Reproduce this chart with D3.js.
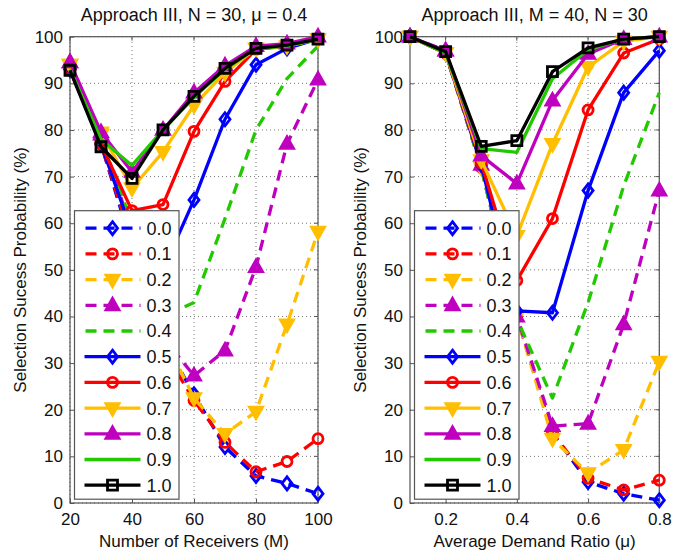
<!DOCTYPE html>
<html>
<head>
<meta charset="utf-8">
<script src="https://d3js.org/d3.v7.min.js"></script>
<style>
  body { margin: 0; background: #fff; font-family: 'Liberation Sans', Arial, sans-serif; }
</style>
</head>
<body>
<div id="chart"></div>
<script>
// series labels (legend) and the x values of both panels
var seriesLabels = ["0.0", "0.1", "0.2", "0.3", "0.4", "0.5", "0.6", "0.7", "0.8", "0.9", "1.0"];
var receivers = [20, 30, 40, 50, 60, 70, 80, 90, 100];
var demandRatio = [0.1, 0.2, 0.3, 0.4, 0.5, 0.6, 0.7, 0.8];

// left panel: N = 30, mu = 0.4, one row per series
var leftValues = [
  [93, 77, 55, 35, 23.3, 12, 5.8, 4.2, 2],
  [93, 77, 56, 33, 22, 13, 6.7, 8.9, 13.8],
  [94, 79, 58, 36, 22.5, 14.8, 19.6, 38.3, 58.2],
  [94.5, 79, 58, 35.5, 27.3, 32.7, 50.6, 77, 90.8],
  [93, 78, 60, 40, 43, 61, 80, 91, 98],
  [93, 77, 58, 50, 65, 82.3, 94, 97.5, 99.5],
  [93, 77, 62.7, 64, 79.7, 90.4, 97.3, 98, 99.5],
  [94, 79.5, 67.5, 75.3, 85.3, 92.3, 97.5, 98, 99.5],
  [94.5, 79.5, 71, 80, 88, 93.8, 98, 98.5, 100],
  [93, 78, 72.4, 80, 87, 93, 97.5, 98, 99.5],
  [92.8, 76.4, 69.6, 80, 87.2, 93.2, 97.5, 98.2, 99.5]
];

// right panel: M = 40, N = 30
var rightValues = [
  [100, 96.5, 72, 40, 15, 4.5, 2, 0.6],
  [100, 96.5, 72, 40, 15, 5.3, 2.8, 4.9],
  [100, 96.5, 72, 40, 13.8, 6.4, 11.4, 30.3],
  [100, 97, 72.5, 40, 16.5, 17, 38.3, 67],
  [100, 96.5, 72, 39.5, 22.5, 43, 68, 88],
  [100, 96.5, 72.5, 41.2, 40.8, 67, 88, 97],
  [100, 96.5, 73, 47.7, 61, 84.3, 96.5, 99.5],
  [100, 96.5, 73.5, 57.3, 77, 93.5, 99, 100],
  [100, 97, 74.5, 68.5, 86.3, 96.3, 99.5, 100],
  [100, 96.5, 76, 75.2, 91, 97.2, 99.5, 100],
  [100, 96.8, 76.5, 77.7, 92.5, 97.6, 99.5, 100]
];

var yTicks = [0, 10, 20, 30, 40, 50, 60, 70, 80, 90, 100];
var leftXTicks = [20, 40, 60, 80, 100];
var rightXTicks = [0.2, 0.4, 0.6, 0.8];

// styles
var colors = ["#0000ff", "#ff0000", "#ffbf00", "#bf00bf", "#22c800",
              "#0000ff", "#ff0000", "#ffbf00", "#bf00bf", "#22c800", "#000000"];
var dashed = [true, true, true, true, true, false, false, false, false, false, false];
var markers = ["diamond", "circle", "tridown", "triup", null,
               "diamond", "circle", "tridown", "triup", null, "square"];

var W = 684, H = 555;
var svg = d3.select("#chart").append("svg")
  .attr("width", W).attr("height", H);

function markerPath(kind) {
  if (kind == "diamond") return "M0,-6.5L5,0L0,6.5L-5,0Z";
  if (kind == "circle") return "M5,0A5,5 0 1,1 -5,0A5,5 0 1,1 5,0Z";
  if (kind == "tridown") return "M-6.5,-4.5L6.5,-4.5L0,7Z";
  if (kind == "triup") return "M-6.5,4.5L6.5,4.5L0,-7Z";
  if (kind == "square") return "M-5,-5L5,-5L5,5L-5,5Z";
  return null;
}

function drawMarker(g, kind, color, x, y) {
  if (!kind) return;
  var filled = (kind == "tridown" || kind == "triup");
  g.append("path")
    .attr("d", markerPath(kind))
    .attr("transform", "translate(" + x + "," + y + ")")
    .attr("fill", filled ? color : "none")
    .attr("stroke", color)
    .attr("stroke-width", 2.8)
    .attr("stroke-linejoin", "miter");
}

function drawPanel(opt) {
  var x = d3.scaleLinear().domain(opt.xDomain).range([opt.left, opt.right]);
  var y = d3.scaleLinear().domain([0, 100]).range([503, 36.7]);
  var g = svg.append("g");

  // grid
  g.selectAll(".gx").data(opt.xTicks).enter().append("line")
    .attr("x1", function (d) { return x(d); }).attr("x2", function (d) { return x(d); })
    .attr("y1", y(0)).attr("y2", y(100))
    .attr("stroke", "#777").attr("stroke-width", 1).attr("stroke-dasharray", "1,3");
  g.selectAll(".gy").data(yTicks).enter().append("line")
    .attr("x1", opt.left).attr("x2", opt.right)
    .attr("y1", function (d) { return y(d); }).attr("y2", function (d) { return y(d); })
    .attr("stroke", "#777").attr("stroke-width", 1).attr("stroke-dasharray", "1,3");

  // axes
  var xAxis = g.append("g").attr("transform", "translate(0," + y(0) + ")")
    .call(d3.axisBottom(x).tickValues(opt.xTicks).tickSizeInner(-4).tickSizeOuter(0)
      .tickPadding(10).tickFormat(opt.xFormat));
  var yAxis = g.append("g").attr("transform", "translate(" + opt.left + ",0)")
    .call(d3.axisLeft(y).tickValues(yTicks).tickSizeInner(-4).tickSizeOuter(0).tickPadding(7));
  [xAxis, yAxis].forEach(function (a) {
    a.select(".domain").remove();
    a.selectAll("line").attr("stroke", "#555");
    a.selectAll("text").attr("font-size", 17).attr("fill", "#111")
      .attr("font-family", "'Liberation Sans', Arial, sans-serif");
  });
  // top ticks and right ticks
  g.selectAll(".tt").data(opt.xTicks).enter().append("line")
    .attr("x1", function (d) { return x(d); }).attr("x2", function (d) { return x(d); })
    .attr("y1", y(100)).attr("y2", y(100) + 4).attr("stroke", "#555");
  g.selectAll(".rt").data(yTicks).enter().append("line")
    .attr("x1", opt.right).attr("x2", opt.right - 4)
    .attr("y1", function (d) { return y(d); }).attr("y2", function (d) { return y(d); })
    .attr("stroke", "#555");

  g.append("rect")
    .attr("x", opt.left).attr("y", y(100))
    .attr("width", opt.right - opt.left).attr("height", y(0) - y(100))
    .attr("fill", "none").attr("stroke", "#555").attr("stroke-width", 1.2);

  // series
  var line = d3.line()
    .x(function (d) { return x(d[0]); })
    .y(function (d) { return y(d[1]); });
  opt.values.forEach(function (vals, i) {
    var pts = opt.xs.map(function (xv, j) { return [xv, vals[j]]; });
    var sg = g.append("g");
    sg.append("path")
      .attr("d", line(pts))
      .attr("fill", "none")
      .attr("stroke", colors[i])
      .attr("stroke-width", 3.3)
      .attr("stroke-linejoin", "round")
      .attr("stroke-dasharray", dashed[i] ? "11,7" : null);
    pts.forEach(function (p) { drawMarker(sg, markers[i], colors[i], x(p[0]), y(p[1])); });
  });

  // title and labels
  svg.append("text")
    .attr("x", (opt.left + opt.right) / 2).attr("y", 21)
    .attr("text-anchor", "middle").attr("font-size", 18).attr("fill", "#111")
    .text(opt.title);
  svg.append("text")
    .attr("x", (opt.left + opt.right) / 2).attr("y", 547)
    .attr("text-anchor", "middle").attr("font-size", 17).attr("fill", "#111")
    .text(opt.xLabel);
  svg.append("text")
    .attr("transform", "translate(" + (opt.left - 44) + "," + ((y(0) + y(100)) / 2) + ") rotate(-90)")
    .attr("text-anchor", "middle").attr("font-size", 17).attr("fill", "#111")
    .text("Selection Sucess Probability (%)");

  // legend
  var lx = opt.left + 4.5, ly = 210.7, lw = 104.5, lh = 288.5;
  var lg = g.append("g");
  lg.append("rect").attr("x", lx).attr("y", ly).attr("width", lw).attr("height", lh)
    .attr("fill", "#fff").attr("stroke", "#555").attr("stroke-width", 1.2);
  seriesLabels.forEach(function (lab, i) {
    var ry = ly + 17.5 + i * 25.7;
    lg.append("line")
      .attr("x1", lx + 10).attr("x2", lx + 66).attr("y1", ry).attr("y2", ry)
      .attr("stroke", colors[i]).attr("stroke-width", 3.3)
      .attr("stroke-dasharray", dashed[i] ? "11,7" : null)
      .attr("stroke-dashoffset", dashed[i] ? -1 : null);
    drawMarker(lg, markers[i], colors[i], lx + 38, ry);
    lg.append("text")
      .attr("x", lx + 72).attr("y", ry).attr("dy", "0.36em")
      .attr("font-size", 18).attr("fill", "#111")
      .text(lab);
  });
}

drawPanel({
  left: 70, right: 318, xDomain: [20, 100], xs: receivers, xTicks: leftXTicks,
  xFormat: d3.format("d"), values: leftValues,
  title: "Approach III, N = 30, \u03bc = 0.4", xLabel: "Number of Receivers (M)"
});
drawPanel({
  left: 410, right: 659.3, xDomain: [0.1, 0.8], xs: demandRatio, xTicks: rightXTicks,
  xFormat: d3.format(".1f"), values: rightValues,
  title: "Approach III, M = 40, N = 30", xLabel: "Average Demand Ratio (\u03bc)"
});
</script>
</body>
</html>
